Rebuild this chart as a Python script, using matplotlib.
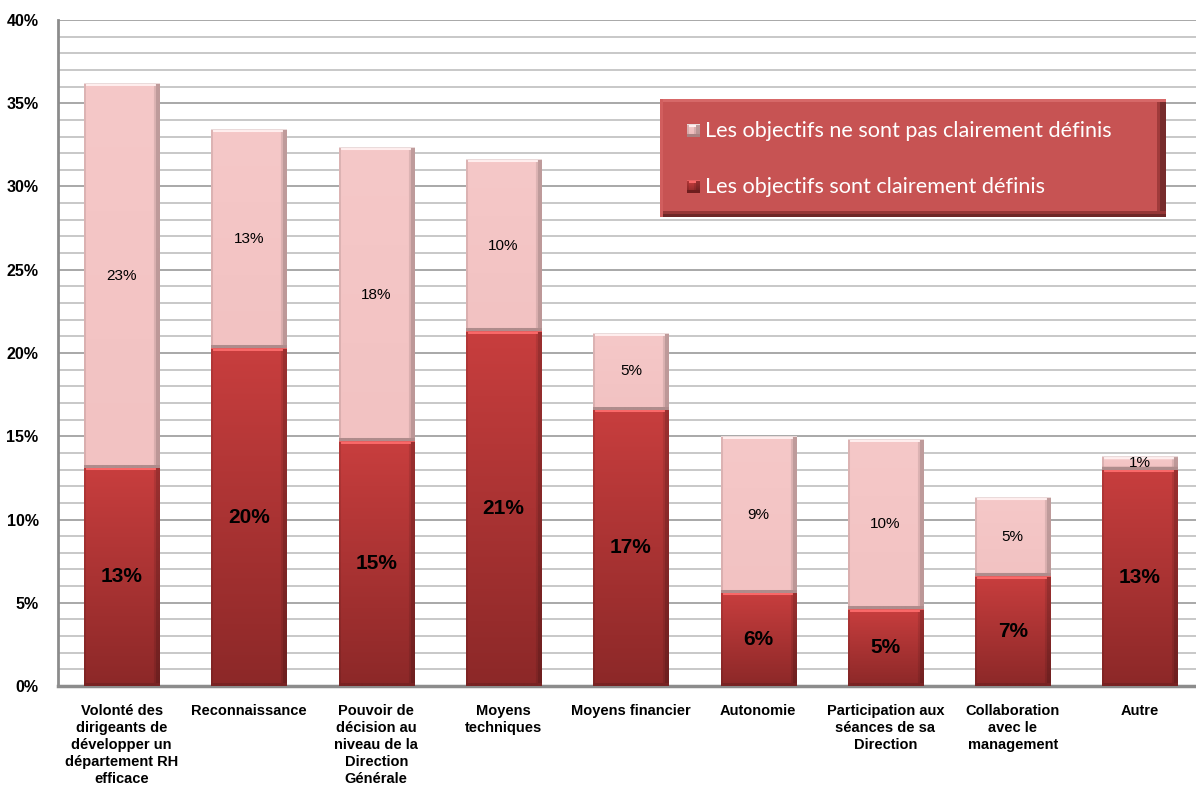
import numpy as np
import matplotlib
matplotlib.use('Agg')
import matplotlib.pyplot as plt
from matplotlib.ticker import MultipleLocator, FuncFormatter

plt.rcParams['font.family'] = ['Liberation Sans', 'DejaVu Sans']

categories = [
    "Volonté des\ndirigeants de\ndévelopper un\ndépartement RH\nefficace",
    "Reconnaissance",
    "Pouvoir de\ndécision au\nniveau de la\nDirection\nGénérale",
    "Moyens\ntechniques",
    "Moyens financier",
    "Autonomie",
    "Participation aux\nséances de sa\nDirection",
    "Collaboration\navec le\nmanagement",
    "Autre",
]
# % of respondents
defined = [13.1, 20.3, 14.7, 21.3, 16.6, 5.6, 4.6, 6.6, 13.0]
not_defined = [23.1, 13.1, 17.6, 10.3, 4.6, 9.4, 10.2, 4.7, 0.8]

label_defined = "Les objectifs sont clairement définis"
label_not_defined = "Les objectifs ne sont pas clairement définis"

W, H, DPI = 1196, 787, 100
fig = plt.figure(figsize=(W / DPI, H / DPI), dpi=DPI)
ax = fig.add_axes([58 / W, (H - 686) / H, 9 * 127.3 / W, 666 / H])

ax.set_xlim(-0.5, len(categories) - 0.5)
ax.set_ylim(0, 40)
bar_w = 0.59


def bevel(h_px, w_px, top_rgb, bot_rgb, hi_rgb, lo_rgb):
    h_px = max(int(round(h_px)), 3)
    w_px = max(int(round(w_px)), 6)
    t = np.linspace(0, 1, h_px)[:, None, None]
    img = np.array(top_rgb)[None, None, :] * (1 - t) + np.array(bot_rgb)[None, None, :] * t
    img = np.repeat(img, w_px, axis=1)
    # side shading
    img[:, -4:] *= 0.78
    img[:, -6:-4] *= 0.9
    img[:, :2] *= 0.9
    # top highlight and bottom rim
    img[:3, 2:-4] = np.array(hi_rgb)
    img[0, :] = np.array(hi_rgb) * 0.92
    img[-3:, :] = np.array(lo_rgb)
    return np.clip(img / 255.0, 0, 1)


px_per_unit = 666 / 40
for i, (d, n) in enumerate(zip(defined, not_defined)):
    x0, x1 = i - bar_w / 2, i + bar_w / 2
    wpx = bar_w * 127.3
    img = bevel(d * px_per_unit, wpx, (200, 62, 62), (140, 40, 40),
                (250, 105, 105), (120, 35, 35))
    ax.imshow(img, extent=(x0, x1, 0, d), aspect='auto',
              interpolation='bilinear', zorder=3)
    img = bevel(n * px_per_unit, wpx, (245, 200, 200), (242, 194, 194),
                (255, 238, 238), (175, 140, 140))
    ax.imshow(img, extent=(x0, x1, d, d + n), aspect='auto',
              interpolation='bilinear', zorder=3)
    ax.text(i, d / 2, f"{d:.0f}%", ha='center', va='center',
            fontsize=15, fontweight='bold', color='black', zorder=4)
    ax.text(i, d + n / 2, f"{n:.0f}%", ha='center', va='center',
            fontsize=11, color='black', zorder=4)

ax.set_xlim(-0.5, len(categories) - 0.5)
ax.set_ylim(0, 40)

ax.yaxis.set_major_locator(MultipleLocator(5))
ax.yaxis.set_minor_locator(MultipleLocator(1))
ax.yaxis.set_major_formatter(FuncFormatter(lambda v, p: f"{v:.0f}%"))
ax.grid(axis='y', which='minor', color='#c8c8c8', linewidth=1.4, zorder=0)
ax.grid(axis='y', which='major', color='#a8a8a8', linewidth=1.4, zorder=0)
ax.set_axisbelow(True)

ax.set_xticks(range(len(categories)))
ax.set_xticklabels(categories, fontsize=10.5, fontweight='bold',
                   va='top', linespacing=1.28)
ax.tick_params(axis='x', length=0, pad=13)
ax.tick_params(axis='y', which='both', length=0, pad=14, labelsize=11.5)
for lab in ax.get_yticklabels():
    lab.set_fontweight('bold')

for s in ('top', 'right'):
    ax.spines[s].set_visible(False)
ax.spines['left'].set_color('#8c8c8c')
ax.spines['bottom'].set_color('#8c8c8c')
ax.spines['left'].set_linewidth(2)
ax.spines['bottom'].set_linewidth(2.5)

# legend panel
lx, ly, lw, lh = 660, 99, 506, 118
lax = fig.add_axes([lx / W, (H - ly - lh) / H, lw / W, lh / H])
lax.set_axis_off()
panel = np.ones((lh, lw, 3)) * np.array([200, 84, 84])
panel[:, -6:] = np.array([120, 45, 45])
panel[:, -9:-6] = np.array([160, 60, 60])
panel[-6:, :] = np.array([150, 55, 55])
panel[-3:, :] = np.array([110, 40, 40])
panel[:3, :] = np.array([215, 105, 105])
panel[:, :3] = np.array([210, 95, 95])
lax.imshow(np.clip(panel / 255.0, 0, 1), extent=(0, lw, lh, 0), aspect='auto')
lax.set_xlim(0, lw)
lax.set_ylim(lh, 0)

entries = [
    (label_not_defined, bevel(13, 13, (245, 200, 200), (235, 185, 185), (255, 240, 240), (170, 130, 130)), 32),
    (label_defined, bevel(13, 13, (200, 62, 62), (140, 40, 40), (250, 105, 105), (110, 30, 30)), 88),
]
for text, sw, yc in entries:
    lax.imshow(sw, extent=(27, 40, yc + 6.5, yc - 6.5), aspect='auto', zorder=3)
    lax.text(45, yc, text, color='white', fontsize=15.6, family=['Lato', 'DejaVu Sans'],
             va='center', ha='left', zorder=4)
lax.set_xlim(0, lw)
lax.set_ylim(lh, 0)

fig.savefig('out.png', dpi=DPI)
